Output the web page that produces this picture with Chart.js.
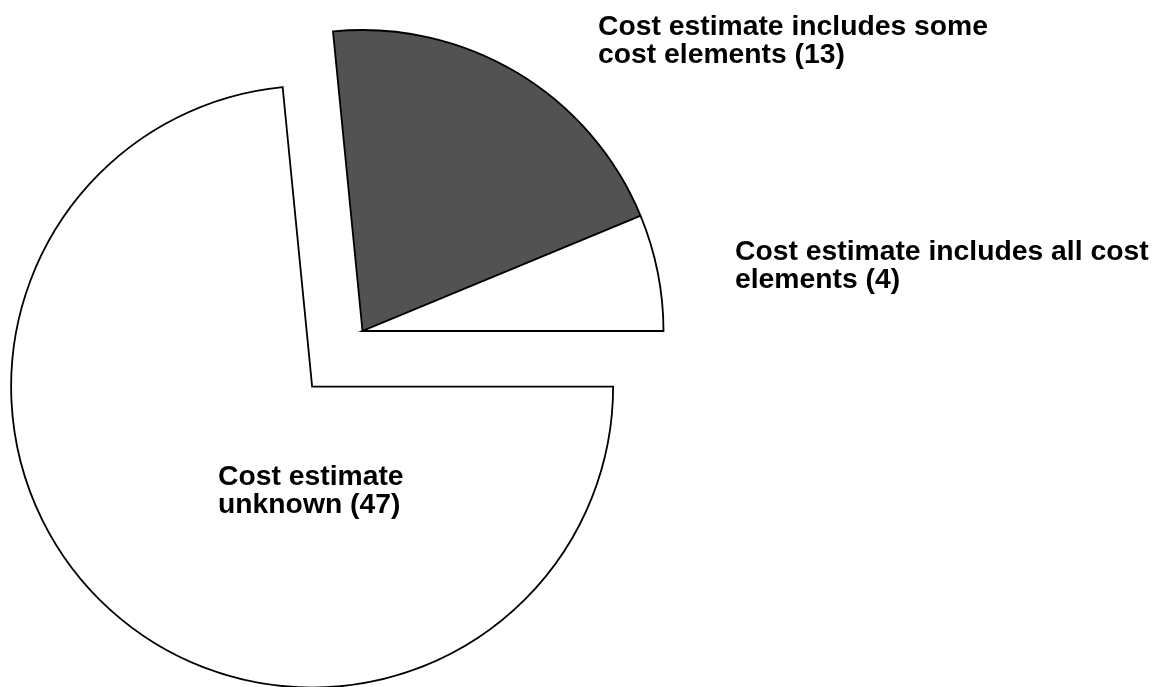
<!DOCTYPE html>
<html>
<head>
<meta charset="utf-8">
<script src="https://cdn.jsdelivr.net/npm/chart.js@4/dist/chart.umd.min.js"></script>
<style>
html,body{margin:0;padding:0;background:#fff;}
canvas{display:block;}
</style>
</head>
<body>
<canvas id="c" width="1158" height="687"></canvas>
<script>
// Data
const categories = ["Cost estimate unknown", "Cost estimate includes some cost elements", "Cost estimate includes all cost elements"];
const counts = [47, 13, 4];
const labelLines = [
  ["Cost estimate", "unknown (47)"],
  ["Cost estimate includes some", "cost elements (13)"],
  ["Cost estimate includes all cost", "elements (4)"]
];
const explodeDist = [75, 0, 0];
const sliceColors = ["#ffffff", "#525252", "#ffffff"];
// label anchors relative to pie centre (px)
const labelOffsets = [[-144.5, 154], [235.5, -296], [372.5, -71]];

const explodePlugin = {
  id: 'explode',
  afterDatasetsUpdate(chart) {
    const meta = chart.getDatasetMeta(0);
    meta.data.forEach((arc, i) => {
      const d = explodeDist[i] || 0;
      if (!d) return;
      const mid = (arc.startAngle + arc.endAngle) / 2;
      arc.x += Math.cos(mid) * d;
      arc.y += Math.sin(mid) * d;
    });
  },
  afterDatasetsDraw(chart) {
    const ctx = chart.ctx;
    const ca = chart.chartArea;
    const cx = (ca.left + ca.right) / 2;
    const cy = (ca.top + ca.bottom) / 2;
    ctx.save();
    ctx.fillStyle = '#000';
    ctx.font = 'bold 28.3px "Liberation Sans", Arial, sans-serif';
    ctx.textBaseline = 'alphabetic';
    ctx.textAlign = 'left';
    labelLines.forEach((lines, i) => {
      const [ox, oy] = labelOffsets[i];
      lines.forEach((t, j) => ctx.fillText(t, cx + ox, cy + oy + j * 28));
    });
    ctx.restore();
  }
};

new Chart(document.getElementById('c'), {
  type: 'pie',
  data: {
    labels: categories,
    datasets: [{
      data: counts,
      backgroundColor: sliceColors,
      borderColor: '#000000',
      borderWidth: 1.8,
      borderJoinStyle: 'miter',
      clip: false
    }]
  },
  options: {
    responsive: false,
    animation: false,
    rotation: 90,
    radius: 301,
    layout: { padding: { left: 0, right: 433, top: 0, bottom: 25 } },
    plugins: { legend: { display: false }, tooltip: { enabled: false } },
    events: []
  },
  plugins: [explodePlugin]
});
</script>
</body>
</html>
